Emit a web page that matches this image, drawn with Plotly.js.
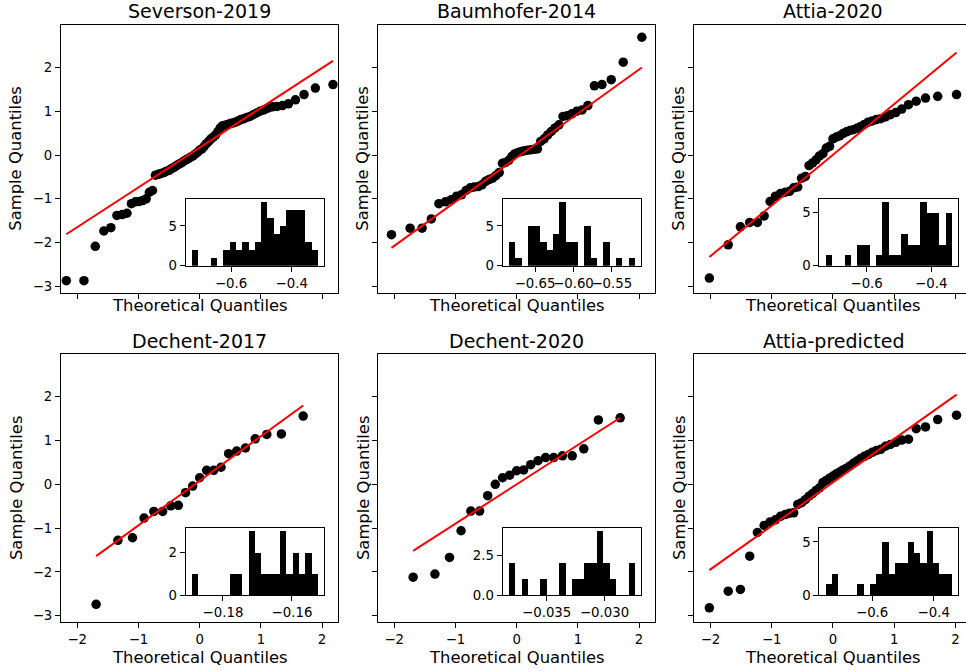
<!DOCTYPE html>
<html>
<head>
<meta charset="utf-8">
<script src="https://cdn.plot.ly/plotly-3.0.1.min.js"></script>
<style>html,body{margin:0;padding:0;background:#fff;}#chart{width:966px;height:672px;}</style>
</head>
<body>
<div id="chart"></div>
<script>
// ---------- DATA ----------
const panelTitles = ["Severson-2019", "Baumhofer-2014", "Attia-2020", "Dechent-2017", "Dechent-2020", "Attia-predicted"];
const xTitle = "Theoretical Quantiles";
const yTitle = "Sample Quantiles";

// theoretical quantiles (as read / plotted)
const theo67 = [-2.178,-1.890,-1.705,-1.565,-1.450,-1.352,-1.265,-1.187,-1.115,-1.049,-0.987,-0.929,-0.874,-0.821,-0.770,-0.722,-0.674,-0.629,-0.584,-0.541,-0.499,-0.458,-0.417,-0.377,-0.338,-0.299,-0.261,-0.223,-0.185,-0.148,-0.111,-0.074,-0.037,0,0.037,0.074,0.111,0.148,0.185,0.223,0.261,0.299,0.338,0.377,0.417,0.458,0.499,0.541,0.584,0.629,0.674,0.722,0.770,0.821,0.874,0.929,0.987,1.049,1.115,1.187,1.265,1.352,1.450,1.565,1.705,1.890,2.178];
const theo48 = [-2.045,-1.741,-1.545,-1.394,-1.270,-1.163,-1.068,-0.981,-0.902,-0.827,-0.757,-0.691,-0.627,-0.566,-0.507,-0.450,-0.393,-0.339,-0.285,-0.232,-0.180,-0.128,-0.077,-0.026,0.026,0.077,0.128,0.180,0.232,0.285,0.339,0.393,0.450,0.507,0.566,0.627,0.691,0.757,0.827,0.902,0.981,1.068,1.163,1.270,1.394,1.545,1.741,2.045];
const theo45 = [-2.019,-1.711,-1.512,-1.360,-1.234,-1.124,-1.027,-0.939,-0.857,-0.781,-0.709,-0.641,-0.575,-0.512,-0.451,-0.391,-0.333,-0.276,-0.220,-0.164,-0.109,-0.055,0,0.055,0.109,0.164,0.220,0.276,0.333,0.391,0.451,0.512,0.575,0.641,0.709,0.781,0.857,0.939,1.027,1.124,1.234,1.360,1.512,1.711,2.019];
const theo21 = [-1.691,-1.335,-1.097,-0.908,-0.748,-0.605,-0.473,-0.349,-0.230,-0.114,0,0.114,0.230,0.349,0.473,0.605,0.748,0.908,1.097,1.335,1.691];

// sample quantiles
const seversonY = [-2.87,-2.87,-2.085,-1.735,-1.66,-1.38,-1.36,-1.33,-1.11,-1.07,-1.06,-1.04,-1.00,-0.85,-0.81,-0.46,-0.44,-0.42,-0.40,-0.37,-0.35,-0.31,-0.28,-0.24,-0.21,-0.18,-0.14,-0.11,-0.08,-0.05,-0.02,0.02,0.06,0.11,0.14,0.20,0.26,0.31,0.37,0.41,0.46,0.54,0.62,0.67,0.68,0.70,0.72,0.73,0.75,0.78,0.81,0.83,0.86,0.88,0.92,0.96,1.00,1.03,1.07,1.10,1.11,1.13,1.17,1.26,1.38,1.53,1.61];
const baumhoferY = [-1.82,-1.67,-1.67,-1.46,-1.11,-1.07,-1.02,-0.94,-0.91,-0.81,-0.75,-0.73,-0.72,-0.68,-0.60,-0.56,-0.53,-0.47,-0.40,-0.19,-0.17,-0.12,-0.03,0.03,0.06,0.08,0.10,0.11,0.12,0.13,0.14,0.31,0.37,0.46,0.54,0.62,0.69,0.88,0.90,0.94,1.00,1.03,1.13,1.58,1.61,1.72,2.12,2.69];
const attia2020Y = [-2.81,-2.05,-1.64,-1.54,-1.54,-1.39,-1.06,-0.94,-0.88,-0.85,-0.83,-0.75,-0.73,-0.53,-0.49,-0.24,-0.18,-0.11,-0.02,0.03,0.16,0.20,0.37,0.41,0.44,0.49,0.53,0.56,0.58,0.61,0.65,0.70,0.75,0.78,0.81,0.83,0.87,0.92,0.97,1.05,1.15,1.23,1.30,1.34,1.38];
const dechent2017Y = [-2.74,-1.28,-1.22,-0.77,-0.62,-0.62,-0.49,-0.48,-0.19,-0.04,0.15,0.32,0.32,0.39,0.70,0.76,0.83,1.04,1.14,1.15,1.56];
const dechent2020Y = [-2.12,-2.05,-1.67,-1.06,-0.61,-0.61,-0.26,0.00,0.15,0.21,0.31,0.33,0.45,0.54,0.61,0.61,0.65,0.65,0.81,1.47,1.52];
const attiaPredY = [-2.82,-2.44,-2.40,-1.64,-1.10,-0.94,-0.86,-0.81,-0.73,-0.69,-0.66,-0.65,-0.46,-0.42,-0.35,-0.27,-0.21,-0.14,-0.08,0.04,0.09,0.14,0.19,0.24,0.28,0.33,0.37,0.42,0.48,0.53,0.59,0.64,0.68,0.73,0.77,0.80,0.87,0.91,0.96,1.01,1.03,1.27,1.31,1.48,1.58];

// reference line end values (y at first and last theoretical quantile)
const seversonLine = [-1.81, 2.15];
const baumhoferLine = [-2.12, 2.00];
const attia2020Line = [-2.33, 2.34];
const dechent2017Line = [-1.64, 1.80];
const dechent2020Line = [-1.52, 1.52];
const attiaPredLine = [-1.96, 2.05];

// inset histograms: counts per bin, first bin edge, bin width
const seversonCounts = [2,0,0,1,0,2,3,2,3,2,3,8,6,4,5,7,7,7,3,2];
const seversonBins = {start: -0.729, width: 0.02075};
const baumhoferCounts = [3,1,0,5,5,3,2,4,8,3,3,0,5,1,0,3,0,1,0,1];
const baumhoferBins = {start: -0.684, width: 0.0082};
const attia2020Counts = [1,0,0,1,0,2,2,0,1,6,1,1,3,2,2,6,5,5,2,5];
const attia2020Bins = {start: -0.727, width: 0.01955};
const dechent2017Counts = [1,0,0,0,0,0,1,1,0,3,2,1,1,1,3,1,2,1,2,1];
const dechent2017Bins = {start: -0.189, width: 0.001825};
const dechent2020Counts = [2,0,1,0,0,1,0,0,2,0,1,1,2,2,4,2,1,0,0,2];
const dechent2020Bins = {start: -0.03826, width: 0.000544};
const attiaPredCounts = [1,2,0,0,0,1,0,1,2,5,2,3,3,5,4,3,6,3,2,2];
const attiaPredBins = {start: -0.751, width: 0.0205};

// tick values
const mainXTicks = [-2,-1,0,1,2];
const mainYTicks = [-3,-2,-1,0,1,2];
const insetXTicks = [[-0.6,-0.4],[-0.65,-0.60,-0.55],[-0.6,-0.4],[-0.18,-0.16],[-0.035,-0.030],[-0.6,-0.4]];
const insetYTicks = [[0,5],[0,5],[0,5],[0,2],[0,2.5],[0,5]];

// ---------- ASSEMBLY ----------
const panels = [
  {x: theo67, y: seversonY, line: seversonLine, counts: seversonCounts, bins: seversonBins},
  {x: theo48, y: baumhoferY, line: baumhoferLine, counts: baumhoferCounts, bins: baumhoferBins},
  {x: theo45, y: attia2020Y, line: attia2020Line, counts: attia2020Counts, bins: attia2020Bins},
  {x: theo21, y: dechent2017Y, line: dechent2017Line, counts: dechent2017Counts, bins: dechent2017Bins},
  {x: theo21, y: dechent2020Y, line: dechent2020Line, counts: dechent2020Counts, bins: dechent2020Bins},
  {x: theo45, y: attiaPredY, line: attiaPredLine, counts: attiaPredCounts, bins: attiaPredBins},
];
const insetXFmt = ['.1f','.2f','.1f','.2f','.3f','.1f'];
const insetYFmt = ['d','d','d','d','.1f','d'];

const W = 966, H = 672;
const FONT = 'DejaVu Sans, Liberation Sans, sans-serif';
const colLeft = [61, 378, 694.3], colW = [277, 277, 277.8];
const rowTop = [25, 354.3], rowH = 267.5;
const xLo = -2.265, pxPerUnit = 277 / 4.525;
const yRange = [-3.14, 2.97];
const fx = p => p / W, fy = p => 1 - p / H;

const data = [];
const layout = {
  width: W, height: H, margin: {l:0, r:0, t:0, b:0},
  paper_bgcolor: '#fff', plot_bgcolor: '#fff', showlegend: false, bargap: 0,
  font: {family: FONT, color: '#000', size: 13.3},
  annotations: []
};

const axBase = {
  showline: true, linecolor: '#000', linewidth: 1, mirror: true,
  ticks: 'outside', ticklen: 5, tickwidth: 1, tickcolor: '#000',
  showgrid: false, zeroline: false, fixedrange: true, tickangle: 0,
  tickfont: {family: FONT, size: 13.3, color: '#000'}
};

panels.forEach((p, i) => {
  const col = i % 3, row = Math.floor(i / 3);
  const k = i + 1, kin = i + 7;
  const L = colLeft[col], Wc = colW[col], T = rowTop[row];
  const R = Math.min(W, L + Wc);
  const xHi = xLo + (R - L) / pxPerUnit;

  // main axes
  layout['xaxis' + k] = Object.assign({}, axBase, {
    domain: [fx(L), fx(R)], range: [xLo, xHi], anchor: 'y' + k,
    tickvals: mainXTicks, showticklabels: row === 1
  });
  layout['yaxis' + k] = Object.assign({}, axBase, {
    domain: [fy(T + rowH), fy(T)], range: yRange, anchor: 'x' + k,
    tickvals: mainYTicks, showticklabels: col === 0, mirror: col === 2 ? false : true
  });

  data.push({
    type: 'scatter', mode: 'markers', x: p.x, y: p.y, xaxis: 'x' + k, yaxis: 'y' + k,
    marker: {color: '#000', size: 9.5}, hoverinfo: 'skip'
  });
  data.push({
    type: 'scatter', mode: 'lines', x: [p.x[0], p.x[p.x.length - 1]], y: p.line,
    xaxis: 'x' + k, yaxis: 'y' + k, line: {color: '#ff0000', width: 2}, hoverinfo: 'skip'
  });

  // inset
  const iL = L + 0.45 * Wc, iR = L + 0.95 * Wc;
  const iB = T + rowH - 0.10 * rowH, iT = T + rowH - 0.35 * rowH;
  const b = p.bins, n = p.counts.length;
  const span = b.width * n;
  const maxC = Math.max.apply(null, p.counts);
  layout['xaxis' + kin] = Object.assign({}, axBase, {
    domain: [fx(iL), fx(iR)], range: [b.start - 0.05 * span, b.start + 1.05 * span],
    anchor: 'y' + kin, tickvals: insetXTicks[i], tickformat: insetXFmt[i]
  });
  layout['yaxis' + kin] = Object.assign({}, axBase, {
    domain: [fy(iB), fy(iT)], range: [0, maxC * 1.05], anchor: 'x' + kin,
    tickvals: insetYTicks[i], tickformat: insetYFmt[i]
  });
  data.push({
    type: 'bar', y: p.counts, x0: b.start, dx: b.width, width: b.width, offset: 0,
    xaxis: 'x' + kin, yaxis: 'y' + kin, marker: {color: '#000', line: {width: 0}}, hoverinfo: 'skip'
  });

  const cx = fx(L + Wc / 2);
  // subplot title
  layout.annotations.push({
    text: panelTitles[i], xref: 'paper', yref: 'paper', x: cx, y: fy(T - 13.5),
    xanchor: 'center', yanchor: 'middle', showarrow: false,
    font: {family: FONT, size: 19, color: '#000'}
  });
  // x title
  layout.annotations.push({
    text: xTitle, xref: 'paper', yref: 'paper', x: cx, y: fy(row === 0 ? 305 : 657),
    xanchor: 'center', yanchor: 'middle', showarrow: false,
    font: {family: FONT, size: 16.4, color: '#000'}
  });
  // y title
  const yx = [16, 363, 679][col];
  layout.annotations.push({
    text: yTitle, xref: 'paper', yref: 'paper', x: fx(yx), y: fy(T + rowH / 2),
    xanchor: 'center', yanchor: 'middle', textangle: -90, showarrow: false,
    font: {family: FONT, size: 16.4, color: '#000'}
  });
});

Plotly.newPlot('chart', data, layout, {staticPlot: true, displayModeBar: false});
</script>
</body>
</html>
